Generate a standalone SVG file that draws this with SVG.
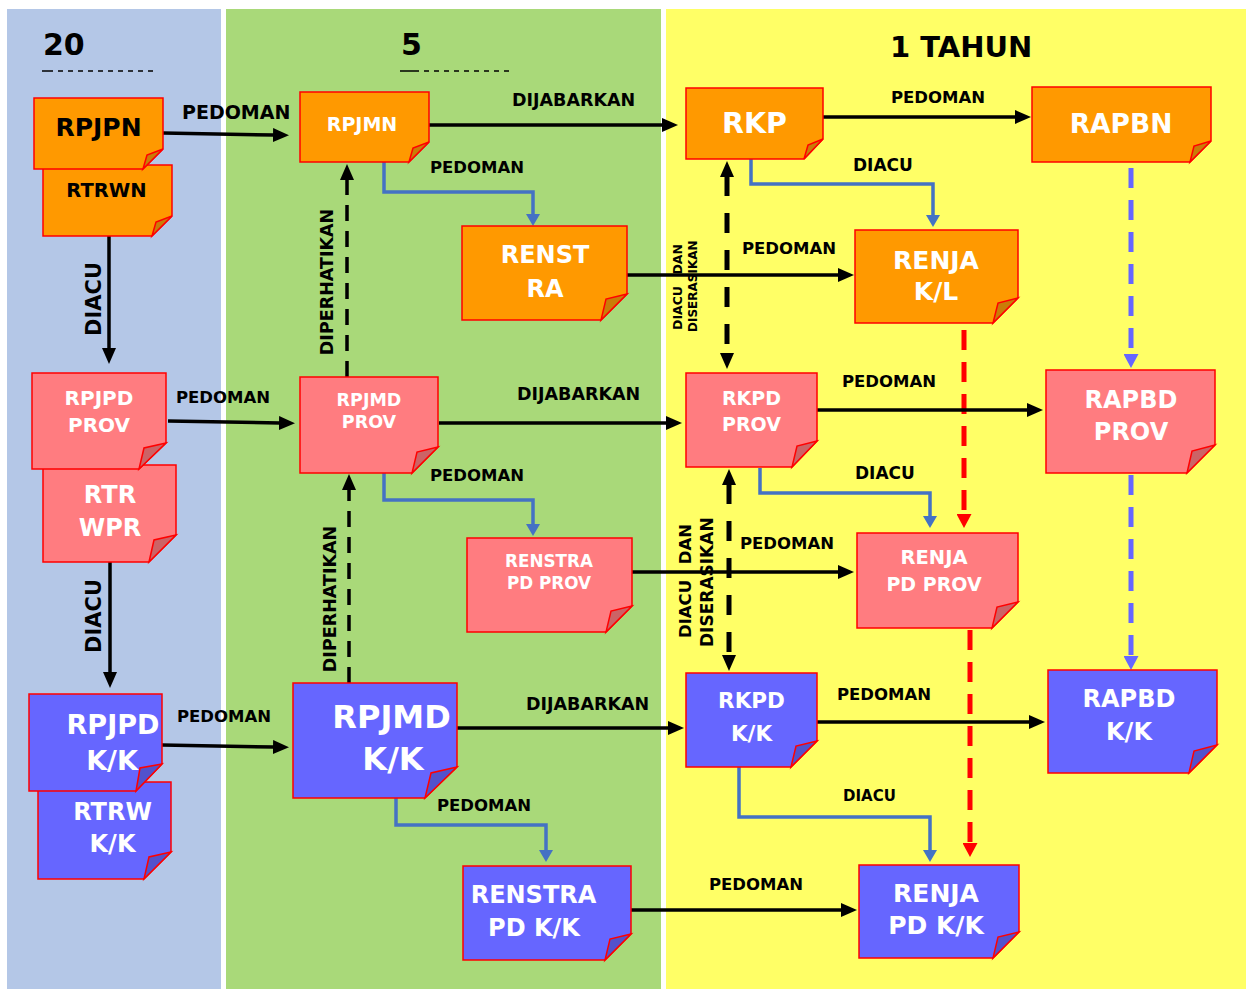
<svg xmlns="http://www.w3.org/2000/svg" width="1246" height="989" viewBox="0 0 1246 989">
<defs>
<style>
text{font-family:"DejaVu Sans",Verdana,sans-serif;font-weight:bold}
.nt{fill:#fff;text-anchor:middle}
.bt{fill:#000;text-anchor:middle}
.lbl{fill:#000;font-size:16.5px}
.o{fill:#FF9900;stroke:#FF0000;stroke-width:1.5}
.of{fill:#C97D08;stroke:#FF0000;stroke-width:1.5}
.p{fill:#FF7C80;stroke:#FF0000;stroke-width:1.5}
.pf{fill:#CC6366;stroke:#FF0000;stroke-width:1.5}
.u{fill:#6666FF;stroke:#FF0000;stroke-width:1.5}
.uf{fill:#5252CC;stroke:#FF0000;stroke-width:1.5}
.k{stroke:#000;stroke-width:3.5;fill:none}
.kd{stroke:#000;stroke-width:3.5;fill:none;stroke-dasharray:16 10}
.kd2{stroke:#000;stroke-width:5;fill:none;stroke-dasharray:20 17}
.b{stroke:#4472C4;stroke-width:3.5;fill:none}
.pd{stroke:#6666FF;stroke-width:5;fill:none;stroke-dasharray:20 12}
.rd{stroke:#FF0000;stroke-width:5;fill:none;stroke-dasharray:20 12}
</style>
<marker id="ak" markerUnits="userSpaceOnUse" markerWidth="16" markerHeight="14" refX="1" refY="7" orient="auto-start-reverse"><path d="M0,0 L16,7 L0,14 Z" fill="#000"/></marker>
<marker id="ab" markerUnits="userSpaceOnUse" markerWidth="12" markerHeight="14" refX="1" refY="7" orient="auto"><path d="M0,0 L12,7 L0,14 Z" fill="#4472C4"/></marker>
<marker id="ap" markerUnits="userSpaceOnUse" markerWidth="14" markerHeight="15" refX="1" refY="7.5" orient="auto"><path d="M0,0 L14,7.5 L0,15 Z" fill="#6666FF"/></marker>
<marker id="ar" markerUnits="userSpaceOnUse" markerWidth="14" markerHeight="15" refX="1" refY="7.5" orient="auto"><path d="M0,0 L14,7.5 L0,15 Z" fill="#FF0000"/></marker>
</defs>
<rect width="1246" height="989" fill="#fff"/>
<g id="columns">
<rect x="7" y="9" width="214" height="980" fill="#B4C7E7"/>
<rect x="226" y="9" width="435" height="980" fill="#A9D979"/>
<rect x="666" y="9" width="580" height="980" fill="#FFFF66"/>
</g>
<g id="headers">
<text x="43" y="55" font-size="30" fill="#000">20</text>
<line x1="42" y1="71" x2="53" y2="71" stroke="#000" stroke-width="1.5"/>
<line x1="58" y1="71" x2="154" y2="71" stroke="#000" stroke-width="1.5" stroke-dasharray="5 5"/>
<text x="401" y="55" font-size="30" fill="#000">5</text>
<line x1="400" y1="71" x2="419" y2="71" stroke="#000" stroke-width="1.5"/>
<line x1="424" y1="71" x2="512" y2="71" stroke="#000" stroke-width="1.5" stroke-dasharray="5 5"/>
<text x="890" y="57" font-size="29" fill="#000">1 TAHUN</text>
</g>
<g id="connectors">
<line class="k" x1="163" y1="133" x2="274" y2="135" marker-end="url(#ak)"/>
<line class="k" x1="429" y1="125" x2="663" y2="125" marker-end="url(#ak)"/>
<line class="k" x1="823" y1="117" x2="1016" y2="117" marker-end="url(#ak)"/>
<line class="k" x1="109" y1="236" x2="109" y2="349" marker-end="url(#ak)"/>
<line class="kd" x1="347" y1="377" x2="347" y2="179" marker-end="url(#ak)"/>
<polyline class="b" points="384,162 384,192 533,192 533,215" marker-end="url(#ab)"/>
<line class="k" x1="627" y1="275" x2="839" y2="275" marker-end="url(#ak)"/>
<line class="kd2" x1="727" y1="176" x2="727" y2="354" marker-start="url(#ak)" marker-end="url(#ak)"/>
<polyline class="b" points="751,159 751,184 933,184 933,216" marker-end="url(#ab)"/>
<line class="pd" x1="1131" y1="168" x2="1131" y2="355" marker-end="url(#ap)"/>
<line class="rd" x1="964" y1="330" x2="964" y2="515" marker-end="url(#ar)"/>
<line class="k" x1="168" y1="421" x2="280" y2="423" marker-end="url(#ak)"/>
<line class="k" x1="439" y1="423" x2="667" y2="423" marker-end="url(#ak)"/>
<line class="k" x1="817" y1="410" x2="1028" y2="410" marker-end="url(#ak)"/>
<polyline class="b" points="384,473 384,500 533,500 533,525" marker-end="url(#ab)"/>
<polyline class="b" points="760,468 760,493 930,493 930,517" marker-end="url(#ab)"/>
<line class="k" x1="632" y1="572" x2="839" y2="572" marker-end="url(#ak)"/>
<line class="kd2" x1="729" y1="484" x2="729" y2="656" marker-start="url(#ak)" marker-end="url(#ak)"/>
<line class="pd" x1="1131" y1="475" x2="1131" y2="657" marker-end="url(#ap)"/>
<line class="rd" x1="970" y1="630" x2="970" y2="844" marker-end="url(#ar)"/>
<line class="k" x1="110" y1="562" x2="110" y2="673" marker-end="url(#ak)"/>
<line class="kd" x1="349" y1="683" x2="349" y2="489" marker-end="url(#ak)"/>
<line class="k" x1="162" y1="745" x2="274" y2="747" marker-end="url(#ak)"/>
<line class="k" x1="457" y1="728" x2="669" y2="728" marker-end="url(#ak)"/>
<line class="k" x1="817" y1="722" x2="1030" y2="722" marker-end="url(#ak)"/>
<polyline class="b" points="396,798 396,825 546,825 546,851" marker-end="url(#ab)"/>
<polyline class="b" points="739,767 739,817 930,817 930,851" marker-end="url(#ab)"/>
<line class="k" x1="631" y1="910" x2="842" y2="910" marker-end="url(#ak)"/>
</g>
<g id="labels" class="lbl">
<text x="182" y="119" font-size="19">PEDOMAN</text>
<text x="512" y="106" font-size="17.5">DIJABARKAN</text>
<text x="891" y="103">PEDOMAN</text>
<text transform="translate(101,299) rotate(-90)" font-size="21" text-anchor="middle">DIACU</text>
<text x="430" y="173">PEDOMAN</text>
<text transform="translate(333,282) rotate(-90)" font-size="17.5" text-anchor="middle">DIPERHATIKAN</text>
<text x="742" y="254">PEDOMAN</text>
<text x="853" y="171" font-size="17">DIACU</text>
<text transform="translate(682,330) rotate(-90)" font-size="12.5">DIACU</text>
<text transform="translate(682,244) rotate(-90)" font-size="12.5" text-anchor="end">DAN</text>
<text transform="translate(697,332) rotate(-90)" font-size="12">DISERASIKAN</text>
<text x="176" y="403">PEDOMAN</text>
<text x="517" y="400" font-size="17.5">DIJABARKAN</text>
<text x="842" y="387">PEDOMAN</text>
<text x="430" y="481">PEDOMAN</text>
<text x="855" y="479" font-size="17">DIACU</text>
<text x="740" y="549">PEDOMAN</text>
<text transform="translate(691,638) rotate(-90)" font-size="16.5">DIACU</text>
<text transform="translate(691,524) rotate(-90)" font-size="16.5" text-anchor="end">DAN</text>
<text transform="translate(713,647) rotate(-90)" font-size="17">DISERASIKAN</text>
<text transform="translate(101,616) rotate(-90)" font-size="21" text-anchor="middle">DIACU</text>
<text transform="translate(336,599) rotate(-90)" font-size="17.5" text-anchor="middle">DIPERHATIKAN</text>
<text x="177" y="722">PEDOMAN</text>
<text x="526" y="710" font-size="17.5">DIJABARKAN</text>
<text x="837" y="700">PEDOMAN</text>
<text x="437" y="811">PEDOMAN</text>
<text x="843" y="801" font-size="15">DIACU</text>
<text x="709" y="890">PEDOMAN</text>
</g>
<g id="n-rtrwn"><path class="o" d="M43 165 H172 V216 L152 236 H43 Z"/><path class="of" d="M172 216 L156 222 L152 236 Z"/><text class="bt" x="106.5" y="197" font-size="19.5">RTRWN</text></g>
<g id="n-rpjpn"><path class="o" d="M34 98 H163 V149 L143 169 H34 Z"/><path class="of" d="M163 149 L147 155 L143 169 Z"/><text class="bt" x="98.5" y="136" font-size="25">RPJPN</text></g>
<g id="n-rpjmn"><path class="o" d="M300 92 H429 V142 L409 162 H300 Z"/><path class="of" d="M429 142 L413 148 L409 162 Z"/><text class="nt" x="362" y="131" font-size="19">RPJMN</text></g>
<g id="n-renstra"><path class="o" d="M462 226 H627 V294 L601 320 H462 Z"/><path class="of" d="M627 294 L606 299 L601 320 Z"/><text class="nt" x="545" y="263" font-size="24">RENST</text><text class="nt" x="545" y="297" font-size="24">RA</text></g>
<g id="n-rkp"><path class="o" d="M686 88 H823 V139 L804 159 H686 Z"/><path class="of" d="M823 139 L808 145 L804 159 Z"/><text class="nt" x="754.5" y="133" font-size="28.5">RKP</text></g>
<g id="n-rapbn"><path class="o" d="M1032 87 H1211 V141 L1190 162 H1032 Z"/><path class="of" d="M1211 141 L1194 146 L1190 162 Z"/><text class="nt" x="1121" y="133" font-size="26.5">RAPBN</text></g>
<g id="n-renja-kl"><path class="o" d="M855 230 H1018 V298 L993 323 H855 Z"/><path class="of" d="M1018 298 L998 303 L993 323 Z"/><text class="nt" x="936" y="269" font-size="25">RENJA</text><text class="nt" x="936" y="300" font-size="25">K/L</text></g>
<g id="n-rtrwpr"><path class="p" d="M43 465 H176 V535 L149 562 H43 Z"/><path class="pf" d="M176 535 L154 540 L149 562 Z"/><text class="nt" x="110" y="503" font-size="24">RTR</text><text class="nt" x="110" y="536" font-size="24">WPR</text></g>
<g id="n-rpjpd-prov"><path class="p" d="M32 373 H166 V443 L139 469 H32 Z"/><path class="pf" d="M166 443 L144 448 L139 469 Z"/><text class="nt" x="99" y="405" font-size="20">RPJPD</text><text class="nt" x="99" y="432" font-size="20">PROV</text></g>
<g id="n-rpjmd-prov"><path class="p" d="M300 377 H438 V447 L412 473 H300 Z"/><path class="pf" d="M438 447 L417 452 L412 473 Z"/><text class="nt" x="369" y="406" font-size="17.5">RPJMD</text><text class="nt" x="369" y="428" font-size="17.5">PROV</text></g>
<g id="n-renstra-pd-prov"><path class="p" d="M467 538 H632 V606 L606 632 H467 Z"/><path class="pf" d="M632 606 L611 611 L606 632 Z"/><text class="nt" x="549" y="567" font-size="16.8">RENSTRA</text><text class="nt" x="549" y="589" font-size="16.8">PD PROV</text></g>
<g id="n-rkpd-prov"><path class="p" d="M686 373 H817 V441 L792 467 H686 Z"/><path class="pf" d="M817 441 L797 446 L792 467 Z"/><text class="nt" x="751.5" y="405" font-size="19">RKPD</text><text class="nt" x="751.5" y="431" font-size="19">PROV</text></g>
<g id="n-rapbd-prov"><path class="p" d="M1046 370 H1215 V445 L1187 473 H1046 Z"/><path class="pf" d="M1215 445 L1192 451 L1187 473 Z"/><text class="nt" x="1131" y="408" font-size="24">RAPBD</text><text class="nt" x="1131" y="440" font-size="24">PROV</text></g>
<g id="n-renja-pd-prov"><path class="p" d="M857 533 H1018 V602 L992 628 H857 Z"/><path class="pf" d="M1018 602 L997 607 L992 628 Z"/><text class="nt" x="934" y="564" font-size="19.5">RENJA</text><text class="nt" x="934" y="591" font-size="19">PD PROV</text></g>
<g id="n-rtrw-kk"><path class="u" d="M38 782 H171 V852 L144 879 H38 Z"/><path class="uf" d="M171 852 L149 857 L144 879 Z"/><text class="nt" x="112.5" y="820" font-size="24">RTRW</text><text class="nt" x="112.5" y="852" font-size="24">K/K</text></g>
<g id="n-rpjpd-kk"><path class="u" d="M29 694 H162 V764 L136 791 H29 Z"/><path class="uf" d="M162 764 L140 768 L136 791 Z"/><text class="nt" x="113" y="734" font-size="27">RPJPD</text><text class="nt" x="112" y="770" font-size="27">K/K</text></g>
<g id="n-rpjmd-kk"><path class="u" d="M293 683 H457 V767 L425 798 H293 Z"/><path class="uf" d="M457 767 L431 773 L425 798 Z"/><text class="nt" x="391.5" y="728" font-size="32">RPJMD</text><text class="nt" x="393" y="770" font-size="32">K/K</text></g>
<g id="n-renstra-pd-kk"><path class="u" d="M463 866 H631 V934 L605 960 H463 Z"/><path class="uf" d="M631 934 L610 939 L605 960 Z"/><text class="nt" x="533.5" y="903" font-size="24">RENSTRA</text><text class="nt" x="534" y="936" font-size="24">PD K/K</text></g>
<g id="n-rkpd-kk"><path class="u" d="M686 673 H817 V741 L791 767 H686 Z"/><path class="uf" d="M817 741 L796 746 L791 767 Z"/><text class="nt" x="751.5" y="708" font-size="21.5">RKPD</text><text class="nt" x="751.5" y="741" font-size="21.5">K/K</text></g>
<g id="n-rapbd-kk"><path class="u" d="M1048 670 H1217 V745 L1189 773 H1048 Z"/><path class="uf" d="M1217 745 L1194 751 L1189 773 Z"/><text class="nt" x="1129" y="707" font-size="24">RAPBD</text><text class="nt" x="1129" y="740" font-size="24">K/K</text></g>
<g id="n-renja-pd-kk"><path class="u" d="M859 865 H1019 V932 L993 958 H859 Z"/><path class="uf" d="M1019 932 L998 937 L993 958 Z"/><text class="nt" x="936" y="902" font-size="25">RENJA</text><text class="nt" x="936" y="934" font-size="25">PD K/K</text></g>
</svg>
